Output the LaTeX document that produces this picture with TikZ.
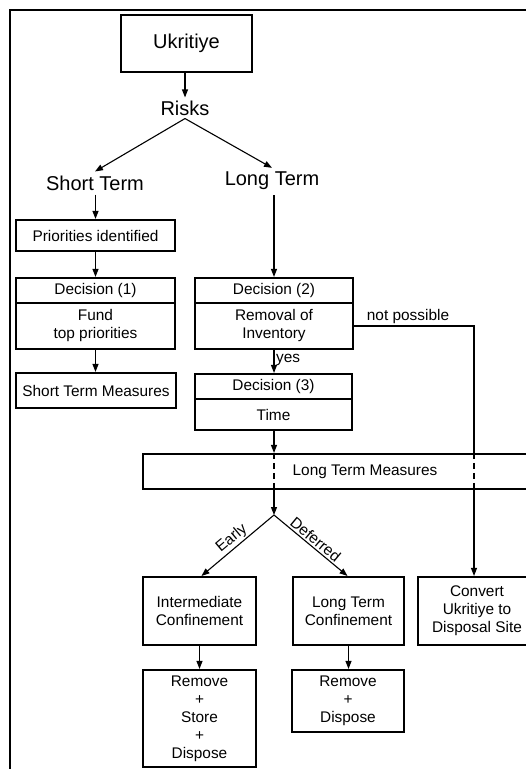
\documentclass[tikz,border=0pt]{standalone}
\usepackage{fontspec}
\setmainfont{Liberation Sans}
\usetikzlibrary{arrows.meta,calc}
\begin{document}
\begin{tikzpicture}[x=1pt,y=-1pt,
  big/.style={font=\fontsize{20}{24}\selectfont, inner sep=0pt},
  box/.style={draw, line width=2.1pt, inner sep=0pt, align=center, font=\fontsize{15.4}{18}\selectfont},
  lab/.style={font=\fontsize{15.4}{18}\selectfont, inner sep=1.5pt},
  arr/.style={line width=1.1pt, -{Triangle[length=8pt,width=6pt]}},
  ln/.style={line width=1.1pt},
  dsh/.style={line width=1.1pt, dash pattern=on 6pt off 4pt}]
\clip (0,0) rectangle (526,769);
% outer frame
\draw[line width=2.2pt] (10,772) -- (10,10) -- (530,10);
% nodes
\node[box, font=\fontsize{20}{24}\selectfont, minimum width=131pt, minimum height=57pt] (ukr) at (186.5,43.5) {Ukritiye};
\node[big] (risks) at (185,108) {Risks};
\node[big] (st) at (95,183) {Short Term};
\node[big] (lt) at (272,181) {Long Term};
\node[box, minimum width=159pt, minimum height=31pt] (pri) at (95.5,235.5) {Priorities identified};
\node[box, minimum width=159pt, minimum height=25pt] (d1h) at (95.5,290.5) {Decision (1)};
\node[box, minimum width=159pt, minimum height=46pt] (d1b) at (95.5,326) {Fund\\top priorities};
\node[box, minimum width=158pt, minimum height=25pt] (d2h) at (274,290.5) {Decision (2)};
\node[box, minimum width=158pt, minimum height=46pt] (d2b) at (274,326) {Removal of\\Inventory};
\node[box, minimum width=160pt, minimum height=35pt] (stm) at (96,390.5) {Short Term Measures};
\node[box, minimum width=157pt, minimum height=25pt] (d3h) at (273.5,386.5) {Decision (3)};
\node[box, minimum width=157pt, minimum height=31pt] (d3b) at (273.5,414.5) {Time};
\node[box, minimum width=444pt, minimum height=35pt] (ltm) at (365,471.5) {Long Term Measures};
\coordinate (apex) at (274,515);
\node[box, minimum width=113pt, minimum height=68pt] (ic) at (199.5,611) {Intermediate\\Confinement};
\node[box, minimum width=111pt, minimum height=68pt] (ltc) at (348.5,611) {Long Term\\Confinement};
\node[box, minimum width=118pt, minimum height=68pt] (conv) at (477,611) {Convert\\Ukritiye to\\Disposal Site};
\node[box, minimum width=113pt, minimum height=97pt] (rsd) at (199.5,718.5) {Remove\\+\\Store\\+\\Dispose};
\node[box, minimum width=112pt, minimum height=62pt] (rd) at (348,701) {Remove\\+\\Dispose};
\coordinate (np) at (474,326);
% connectors
\draw[arr] (ukr.south -| risks) -- ([yshift=3pt]risks.north);
\draw[arr] ([yshift=-3pt]risks.south) -- ([yshift=4pt]st.north);
\draw[arr] ([yshift=-3pt]risks.south) -- ([yshift=4pt]lt.north);
\draw[arr] ([yshift=-4pt]st.south -| pri) -- (pri.north);
\draw[arr] ([yshift=-5pt]lt.south -| d2h) -- (d2h.north);
\draw[arr] (pri.south) -- (d1h.north);
\draw[arr] (d1b.south) -- (d1b.south |- stm.north);
\draw[arr] (d2b.south) -- node[lab, right, pos=0.45] {yes} (d2b.south |- d3h.north);
\draw[arr] (d2b.south |- d3b.south) -- (d2b.south |- ltm.north);
\draw[dsh] (d2b.south |- ltm.north) -- (d2b.south |- ltm.south);
\draw[arr] (d2b.south |- ltm.south) -- (apex);
\draw[ln] (d2b.east) -- node[lab, above, pos=0.45] {not possible} (np) -- (np |- ltm.north);
\draw[dsh] (np |- ltm.north) -- (np |- ltm.south);
\draw[arr] (np |- ltm.south) -- (np |- conv.north);
\draw[arr] (apex) -- node[lab, midway, sloped, above] {Early} ([xshift=2pt]ic.north);
\draw[arr] (apex) -- node[lab, midway, sloped, above] {Deferred} ([xshift=-1pt]ltc.north);
\draw[arr] (ic.south) -- (rsd.north);
\draw[arr] (ltc.south) -- (ltc.south |- rd.north);
\end{tikzpicture}
\end{document}
